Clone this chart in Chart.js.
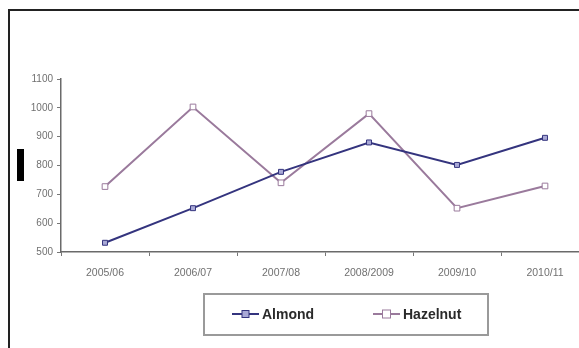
<!DOCTYPE html>
<html>
<head>
<meta charset="utf-8">
<script src="https://cdn.jsdelivr.net/npm/chart.js@4/dist/chart.umd.min.js"></script>
<style>
  html, body { margin: 0; padding: 0; background: #fff; overflow: hidden; width: 579px; height: 348px; }
  #frame { position: absolute; left: 8px; top: 9px; width: 620px; height: 400px;
           border-left: 2px solid #222; border-top: 2px solid #222; }
  #ytitle { position: absolute; left: 17px; top: 149px; width: 7px; height: 32px; background: #000; }
  #wrap { position: absolute; left: 0; top: 0; width: 600px; height: 348px; }
</style>
</head>
<body>
<div id="frame"></div>
<div id="ytitle"></div>
<div id="wrap"><canvas id="c" width="600" height="348"></canvas></div>
<script>
// Seasons and production figures
const seasons = ['2005/06', '2006/07', '2007/08', '2008/2009', '2009/10', '2010/11'];
const almond = [532, 652, 778, 880, 802, 896];
const hazelnut = [727, 1003, 740, 980, 652, 729];
const yTicks = [500, 600, 700, 800, 900, 1000, 1100];

const almondColor = '#34347e';
const hazelColor = '#9a7a9c';

// Boxed legend drawn under the plot
const boxedLegend = {
  id: 'boxedLegend',
  afterDraw(chart) {
    const ctx = chart.ctx;
    ctx.save();
    ctx.strokeStyle = '#9a9a9a';
    ctx.lineWidth = 2;
    ctx.strokeRect(204, 294, 284, 41);
    const items = [
      { ds: chart.data.datasets[0], x: 232 },
      { ds: chart.data.datasets[1], x: 373 }
    ];
    items.forEach(it => {
      const ds = it.ds;
      const y = 314;
      ctx.strokeStyle = ds.borderColor;
      ctx.lineWidth = 2;
      ctx.beginPath();
      ctx.moveTo(it.x, y);
      ctx.lineTo(it.x + 27, y);
      ctx.stroke();
      const r = ds.pointRadius;
      ctx.fillStyle = ds.pointBackgroundColor;
      ctx.lineWidth = 1;
      ctx.strokeStyle = ds.pointBorderColor;
      ctx.fillRect(it.x + 13.5 - r, y - r, 2 * r, 2 * r);
      ctx.strokeRect(it.x + 13.5 - r, y - r, 2 * r, 2 * r);
      ctx.fillStyle = '#2a2a2a';
      ctx.font = 'bold 14px "Liberation Sans", Arial, sans-serif';
      ctx.textBaseline = 'middle';
      ctx.textAlign = 'left';
      ctx.fillText(ds.label, it.x + 30, y + 1);
    });
    ctx.restore();
  }
};

new Chart(document.getElementById('c'), {
  type: 'line',
  data: {
    labels: seasons,
    datasets: [
      {
        label: 'Almond',
        data: almond,
        borderColor: almondColor,
        borderWidth: 2,
        pointStyle: 'rect',
        pointRadius: 3.5,
        pointBackgroundColor: '#a9a9d6',
        pointBorderColor: almondColor,
        pointBorderWidth: 1,
        tension: 0
      },
      {
        label: 'Hazelnut',
        data: hazelnut,
        borderColor: hazelColor,
        borderWidth: 2,
        pointStyle: 'rect',
        pointRadius: 4,
        pointBackgroundColor: '#ffffff',
        pointBorderColor: hazelColor,
        pointBorderWidth: 1,
        tension: 0
      }
    ]
  },
  options: {
    responsive: false,
    animation: false,
    layout: { padding: { top: 79, right: 11, left: 0, bottom: 0 } },
    plugins: { legend: { display: false }, tooltip: { enabled: false } },
    scales: {
      x: {
        offset: true,
        grid: { offset: true, drawOnChartArea: false, tickLength: 4, color: '#777' },
        border: { color: '#6a6a6a', width: 1.5 },
        ticks: {
          font: { size: 10.5, family: '"Liberation Sans", Arial, sans-serif' },
          color: '#707070', padding: 11, maxRotation: 0, autoSkip: false
        },
        afterFit: s => { s.height = 96; }
      },
      y: {
        min: 500, max: 1100,
        afterBuildTicks: s => { s.ticks = yTicks.map(v => ({ value: v })); },
        grid: { drawOnChartArea: false, tickLength: 4, color: '#777' },
        border: { color: '#6a6a6a', width: 1.5 },
        ticks: {
          font: { size: 10, family: '"Liberation Sans", Arial, sans-serif' },
          color: '#707070', padding: 4,
          callback: v => String(v)
        },
        afterFit: s => { s.width = 61; }
      }
    }
  },
  plugins: [boxedLegend]
});
</script>
</body>
</html>
